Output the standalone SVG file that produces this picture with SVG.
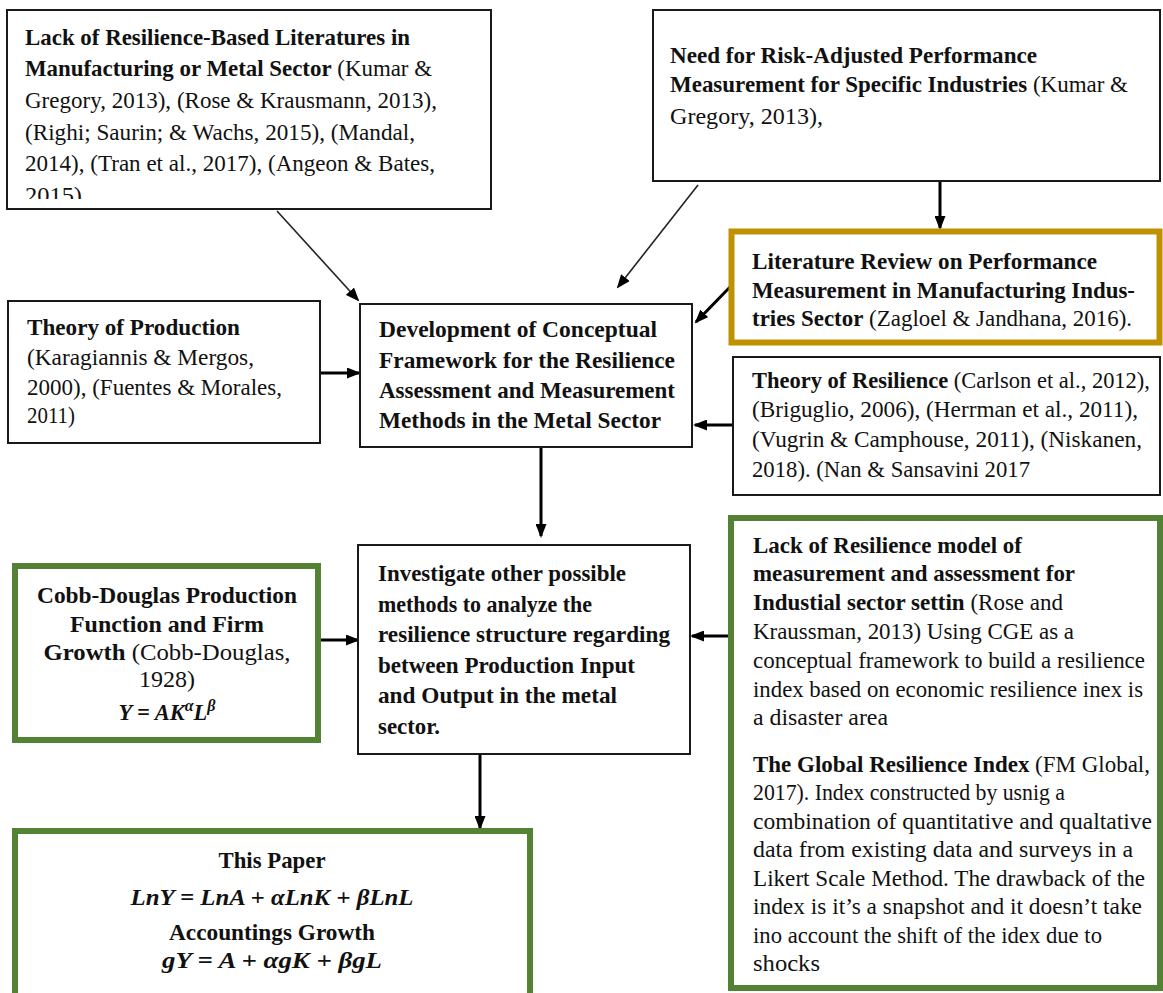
<svg xmlns="http://www.w3.org/2000/svg" width="1163" height="993" viewBox="0 0 1163 993">
<style>
.box{fill:#fff;stroke:#1a1a1a;stroke-width:2}
.green{fill:#fff;stroke:#548235;stroke-width:6}
.gold{fill:#fff;stroke:#BF9000;stroke-width:6}
.t{font-family:"Liberation Serif","Times New Roman",serif;font-size:22.5px;fill:#111}
.b{font-weight:bold}
.bi{font-weight:bold;font-style:italic}
.c{text-anchor:middle}
.thin{stroke:#222;stroke-width:1.6;fill:none}
.thick{stroke:#000;stroke-width:3;fill:none}
</style>
<defs>
<marker id="ah" markerUnits="userSpaceOnUse" markerWidth="14" markerHeight="11" viewBox="0 0 14 11" refX="12" refY="5.5" orient="auto">
<path d="M0,0 L14,5.5 L0,11 Z" fill="#000"/>
</marker>
<marker id="ahs" markerUnits="userSpaceOnUse" markerWidth="14" markerHeight="11" viewBox="0 0 14 11" refX="12" refY="5.5" orient="auto">
<path d="M0,0 L14,5.5 L0,11 Z" fill="#000"/>
</marker>
<clipPath id="clip1"><rect x="8" y="11" width="482" height="188"/></clipPath>
<clipPath id="clip6"><rect x="734" y="358" width="426" height="126"/></clipPath>
</defs>
<rect width="1163" height="993" fill="#fff"/>

<g id="connectors">
<line class="thin" x1="277" y1="211" x2="358" y2="300" marker-end="url(#ahs)"/>
<line class="thin" x1="698" y1="185" x2="618" y2="287" marker-end="url(#ahs)"/>
<line class="thick" x1="940" y1="181" x2="940" y2="228" marker-end="url(#ah)"/>
<line class="thick" x1="730" y1="287" x2="696" y2="322" marker-end="url(#ah)"/>
<line class="thick" x1="320" y1="373" x2="359" y2="373" marker-end="url(#ah)"/>
<line class="thick" x1="733" y1="425" x2="695" y2="425" marker-end="url(#ah)"/>
<line class="thick" x1="541" y1="448" x2="541" y2="536" marker-end="url(#ah)"/>
<line class="thick" x1="321" y1="640" x2="358" y2="640" marker-end="url(#ah)"/>
<line class="thick" x1="728" y1="636" x2="692" y2="636" marker-end="url(#ah)"/>
<line class="thick" x1="480" y1="755" x2="480" y2="828" marker-end="url(#ah)"/>
</g>

<g id="n1">
<rect class="box" x="7" y="10" width="484" height="199"/>
<g clip-path="url(#clip1)">
<text class="t" x="25" y="45" textLength="385" lengthAdjust="spacingAndGlyphs"><tspan class="b">Lack of Resilience-Based Literatures in</tspan></text>
<text class="t" x="25" y="76" textLength="407" lengthAdjust="spacingAndGlyphs"><tspan class="b">Manufacturing or Metal Sector</tspan> (Kumar &amp;</text>
<text class="t" x="25" y="108" textLength="412" lengthAdjust="spacingAndGlyphs">Gregory, 2013), (Rose &amp; Krausmann, 2013),</text>
<text class="t" x="25" y="140" textLength="390" lengthAdjust="spacingAndGlyphs">(Righi; Saurin; &amp; Wachs, 2015), (Mandal,</text>
<text class="t" x="25" y="171" textLength="410" lengthAdjust="spacingAndGlyphs">2014), (Tran et al., 2017), (Angeon &amp; Bates,</text>
<text class="t" x="25" y="203" textLength="57" lengthAdjust="spacingAndGlyphs">2015)</text>
</g>
</g>

<g id="n2">
<rect class="box" x="653" y="10" width="507" height="171"/>
<text class="t" x="670" y="63" textLength="367" lengthAdjust="spacingAndGlyphs"><tspan class="b">Need for Risk-Adjusted Performance</tspan></text>
<text class="t" x="670" y="92" textLength="458" lengthAdjust="spacingAndGlyphs"><tspan class="b">Measurement for Specific Industries</tspan> (Kumar &amp;</text>
<text class="t" x="670" y="124" textLength="153" lengthAdjust="spacingAndGlyphs">Gregory, 2013),</text>
</g>

<g id="n3">
<rect class="gold" x="731.5" y="231.5" width="428" height="111"/>
<text class="t" x="752" y="269" textLength="345" lengthAdjust="spacingAndGlyphs"><tspan class="b">Literature Review on Performance</tspan></text>
<text class="t" x="752" y="298" textLength="383" lengthAdjust="spacingAndGlyphs"><tspan class="b">Measurement in Manufacturing Indus-</tspan></text>
<text class="t" x="752" y="326" textLength="380" lengthAdjust="spacingAndGlyphs"><tspan class="b">tries Sector</tspan> (Zagloel &amp; Jandhana, 2016).</text>
</g>

<g id="n4">
<rect class="box" x="8" y="301" width="312" height="142"/>
<text class="t" x="27" y="335" textLength="213" lengthAdjust="spacingAndGlyphs"><tspan class="b">Theory of Production</tspan></text>
<text class="t" x="27" y="365" textLength="227" lengthAdjust="spacingAndGlyphs">(Karagiannis &amp; Mergos,</text>
<text class="t" x="27" y="395" textLength="255" lengthAdjust="spacingAndGlyphs">2000), (Fuentes &amp; Morales,</text>
<text class="t" x="27" y="423" textLength="48" lengthAdjust="spacingAndGlyphs">2011)</text>
</g>

<g id="n5">
<rect class="box" x="360" y="304" width="332" height="143"/>
<text class="t b" x="379" y="337" textLength="278" lengthAdjust="spacingAndGlyphs">Development of Conceptual</text>
<text class="t b" x="379" y="368" textLength="296" lengthAdjust="spacingAndGlyphs">Framework for the Resilience</text>
<text class="t b" x="379" y="398" textLength="296" lengthAdjust="spacingAndGlyphs">Assessment and Measurement</text>
<text class="t b" x="379" y="428" textLength="282" lengthAdjust="spacingAndGlyphs">Methods in the Metal Sector</text>
</g>

<g id="n6">
<rect class="box" x="733" y="357" width="427" height="138"/>
<g clip-path="url(#clip6)">
<text class="t" x="752" y="388" textLength="398" lengthAdjust="spacingAndGlyphs"><tspan class="b">Theory of Resilience</tspan> (Carlson et al., 2012),</text>
<text class="t" x="752" y="417" textLength="386" lengthAdjust="spacingAndGlyphs">(Briguglio, 2006), (Herrman et al., 2011),</text>
<text class="t" x="752" y="447" textLength="390" lengthAdjust="spacingAndGlyphs">(Vugrin &amp; Camphouse, 2011), (Niskanen,</text>
<text class="t" x="752" y="477" textLength="278" lengthAdjust="spacingAndGlyphs">2018). (Nan &amp; Sansavini 2017</text>
</g>
</g>

<g id="n7">
<rect class="green" x="15" y="566" width="303" height="174"/>
<text class="t c" x="167" y="603" textLength="260" lengthAdjust="spacingAndGlyphs"><tspan class="b">Cobb-Douglas Production</tspan></text>
<text class="t c" x="167" y="632" textLength="194" lengthAdjust="spacingAndGlyphs"><tspan class="b">Function and Firm</tspan></text>
<text class="t c" x="167" y="660" textLength="247" lengthAdjust="spacingAndGlyphs"><tspan class="b">Growth</tspan> (Cobb-Douglas,</text>
<text class="t c" x="167" y="687" textLength="56" lengthAdjust="spacingAndGlyphs">1928)</text>
<text class="t c bi" x="167" y="720" font-size="24">Y = AK<tspan font-size="16" dy="-9">α</tspan><tspan dy="9">L</tspan><tspan font-size="16" dy="-9">β</tspan></text>
</g>

<g id="n8">
<rect class="box" x="358" y="545" width="332" height="209"/>
<text class="t b" x="378" y="581" textLength="248" lengthAdjust="spacingAndGlyphs">Investigate other possible</text>
<text class="t b" x="378" y="612" textLength="214" lengthAdjust="spacingAndGlyphs">methods to analyze the</text>
<text class="t b" x="378" y="642" textLength="292" lengthAdjust="spacingAndGlyphs">resilience structure regarding</text>
<text class="t b" x="378" y="673" textLength="257" lengthAdjust="spacingAndGlyphs">between Production Input</text>
<text class="t b" x="378" y="703" textLength="239" lengthAdjust="spacingAndGlyphs">and Output in the metal</text>
<text class="t b" x="378" y="734" textLength="62" lengthAdjust="spacingAndGlyphs">sector.</text>
</g>

<g id="n9">
<rect class="green" x="731" y="518" width="429" height="470"/>
<text class="t" x="753" y="553" textLength="269" lengthAdjust="spacingAndGlyphs"><tspan class="b">Lack of Resilience model of</tspan></text>
<text class="t" x="753" y="581" textLength="322" lengthAdjust="spacingAndGlyphs"><tspan class="b">measurement and assessment for</tspan></text>
<text class="t" x="753" y="610" textLength="310" lengthAdjust="spacingAndGlyphs"><tspan class="b">Industial sector settin</tspan> (Rose and</text>
<text class="t" x="753" y="639" textLength="321" lengthAdjust="spacingAndGlyphs">Kraussman, 2013) Using CGE as a</text>
<text class="t" x="753" y="668" textLength="392" lengthAdjust="spacingAndGlyphs">conceptual framework to build a resilience</text>
<text class="t" x="753" y="697" textLength="390" lengthAdjust="spacingAndGlyphs">index based on economic resilience inex is</text>
<text class="t" x="753" y="725" textLength="135" lengthAdjust="spacingAndGlyphs">a disaster area</text>
<text class="t" x="753" y="772" textLength="397" lengthAdjust="spacingAndGlyphs"><tspan class="b">The Global Resilience Index</tspan> (FM Global,</text>
<text class="t" x="753" y="800" textLength="312" lengthAdjust="spacingAndGlyphs">2017). Index constructed by usnig a</text>
<text class="t" x="753" y="829" textLength="399" lengthAdjust="spacingAndGlyphs">combination of quantitative and qualtative</text>
<text class="t" x="753" y="857" textLength="380" lengthAdjust="spacingAndGlyphs">data from existing data and surveys in a</text>
<text class="t" x="753" y="886" textLength="392" lengthAdjust="spacingAndGlyphs">Likert Scale Method. The drawback of the</text>
<text class="t" x="753" y="914" textLength="389" lengthAdjust="spacingAndGlyphs">index is it’s a snapshot and it doesn’t take</text>
<text class="t" x="753" y="943" textLength="349" lengthAdjust="spacingAndGlyphs">ino account the shift of the idex due to</text>
<text class="t" x="753" y="971" textLength="67" lengthAdjust="spacingAndGlyphs">shocks</text>
</g>

<g id="n10">
<rect class="green" x="15" y="831" width="515" height="172"/>
<text class="t c b" x="272" y="868" textLength="107" lengthAdjust="spacingAndGlyphs">This Paper</text>
<text class="t c bi" x="272" y="905" textLength="283" lengthAdjust="spacingAndGlyphs">LnY = LnA + αLnK + βLnL</text>
<text class="t c b" x="272" y="940" textLength="206" lengthAdjust="spacingAndGlyphs">Accountings Growth</text>
<text class="t c bi" x="272" y="968" textLength="220" lengthAdjust="spacingAndGlyphs">gY = A + αgK + βgL</text>
</g>
</svg>
